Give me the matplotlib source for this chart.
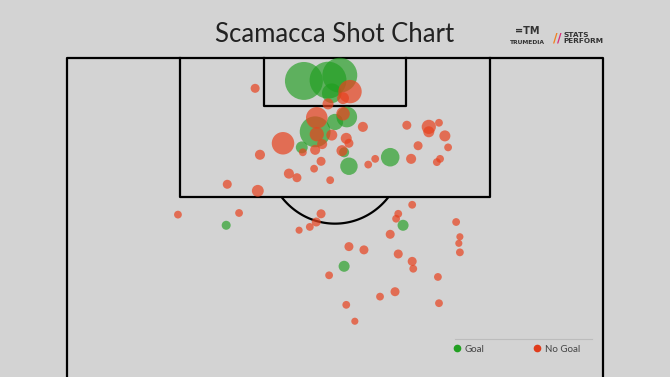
import numpy as np
import matplotlib
matplotlib.use("Agg")
from matplotlib import pyplot as plt
from matplotlib.lines import Line2D

# shot locations in Opta units (x = towards goal, y = across pitch) and xG
goal_x = [97.2, 97.3, 97.9, 95.7, 92.8, 92.2, 91.0, 89.1, 88.5, 86.8, 87.9, 79.6, 79.6, 74.6]
goal_y = [44.2, 48.7, 50.9, 49.4, 52.2, 50.0, 46.3, 43.8, 51.7, 52.6, 60.3, 29.7, 62.7, 51.7]
goal_xg = [0.71, 0.67, 0.60, 0.19, 0.21, 0.13, 0.47, 0.07, 0.05, 0.15, 0.17, 0.04, 0.06, 0.06]

miss_x = [95.9, 94.4, 95.1, 93.2, 92.7, 91.6, 90.7, 89.6, 89.5, 90.6, 90.2, 89.6, 88.7, 88.8,
          88.5, 87.4, 86.5, 85.9, 85.4, 85.1, 87.0, 87.7, 87.7, 89.3, 91.8, 91.6, 91.0, 92.1,
          90.5, 89.1, 87.7, 87.3, 96.3, 88.2, 84.6, 83.8, 82.1, 80.9, 81.1, 81.0, 80.0, 79.4,
          79.0, 81.0, 80.4, 78.5, 80.0, 78.2, 77.4, 76.3, 77.0, 76.6, 76.1, 75.2, 74.3, 73.5,
          73.3, 71.5, 70.9, 70.1, 69.9, 67.9]
miss_y = [52.8, 48.7, 51.5, 51.5, 46.6, 55.2, 46.6, 40.3, 47.6, 49.4, 52.1, 52.6, 51.3, 46.3,
          44.0, 47.4, 46.1, 41.4, 42.9, 49.1, 56.2, 57.5, 64.2, 65.5, 63.4, 67.5, 67.5, 69.4,
          70.5, 71.1, 69.6, 69.0, 35.1, 36.0, 29.9, 35.6, 64.4, 20.7, 32.1, 47.4, 46.5, 45.3,
          43.3, 61.8, 61.4, 60.3, 72.6, 73.3, 73.1, 73.3, 52.6, 55.4, 61.8, 64.4, 64.6, 48.9,
          69.2, 61.2, 58.4, 69.4, 52.1, 53.7]
miss_xg = [0.27, 0.06, 0.07, 0.09, 0.23, 0.05, 0.10, 0.25, 0.05, 0.06, 0.06, 0.04, 0.06, 0.05,
           0.03, 0.04, 0.03, 0.05, 0.04, 0.03, 0.03, 0.03, 0.05, 0.04, 0.04, 0.10, 0.06, 0.03,
           0.06, 0.03, 0.03, 0.03, 0.04, 0.05, 0.04, 0.07, 0.03, 0.03, 0.03, 0.04, 0.04, 0.03,
           0.025, 0.03, 0.03, 0.04, 0.03, 0.025, 0.025, 0.03, 0.04, 0.04, 0.04, 0.04, 0.03, 0.03,
           0.03, 0.04, 0.03, 0.03, 0.03, 0.025]

bg = "#d3d3d3"
green = "#1f9e1f"
red = "#e8421e"

fig = plt.figure(figsize=(6.7, 3.77), dpi=100, facecolor=bg)
ax = fig.add_axes([0, 0, 1, 1])
ax.set_facecolor(bg)
ax.set_xlim(-12.5, 112.5)
ax.set_ylim(61.1, 107.07)
ax.axis("off")

# pitch
lc = "black"
lw = 1.6
ax.plot([0, 0, 100, 100], [60, 100, 100, 60], color=lc, lw=lw, zorder=1)
ax.plot([21.1, 21.1, 78.9, 78.9], [100, 83, 83, 100], color=lc, lw=lw, zorder=1)
ax.plot([36.8, 36.8, 63.2, 63.2], [100, 94.2, 94.2, 100], color=lc, lw=lw, zorder=1)
t = np.linspace(0, 2 * np.pi, 400)
arc_y = 50 + 12.8 * np.cos(t)
arc_x = 88.5 + 8.7 * np.sin(t)
keep = arc_x <= 83
order = np.argsort(arc_y[keep])
ax.plot(arc_y[keep][order], arc_x[keep][order], color=lc, lw=lw, zorder=1)

# shots
ax.scatter(goal_y, goal_x, s=np.array(goal_xg) * 1050, color=green, alpha=0.65,
           edgecolors="none", zorder=2)
ax.scatter(miss_y, miss_x, s=np.array(miss_xg) * 1050, color=red, alpha=0.7,
           edgecolors="none", zorder=3)

# title and logos
fig.text(0.5, 1 - 35 / 377, "Scamacca Shot Chart", ha="center", va="center",
         fontsize=18.5, family="Lato", color="#222222")
fig.text(527 / 670, 1 - 31 / 377, "=TM", ha="center", va="center", fontsize=7,
         fontweight="bold", color="#333333", family="DejaVu Sans")
fig.text(527 / 670, 1 - 43 / 377, "TRUMEDIA", ha="center", va="center", fontsize=4.3,
         fontweight="bold", color="#333333", family="DejaVu Sans")
fig.text(555 / 670, 1 - 38 / 377, "/", ha="center", va="center", fontsize=9,
         fontweight="bold", color="#f08020", family="DejaVu Sans")
fig.text(559 / 670, 1 - 38 / 377, "/", ha="center", va="center", fontsize=9,
         fontweight="bold", color="#d8307a", family="DejaVu Sans")
fig.text(563 / 670, 1 - 38 / 377, "STATS\nPERFORM", ha="left", va="center", fontsize=5.3,
         fontweight="bold", color="#333333", family="DejaVu Sans", linespacing=0.85)

# legend
fig.add_artist(Line2D([455 / 670, 592 / 670], [1 - 339 / 377, 1 - 339 / 377],
                      color="#bcbcbc", lw=0.8))
handles = [Line2D([], [], marker="o", ls="", color="#22a022", markersize=4.5, label="Goal"),
           Line2D([], [], marker="o", ls="", color="#e03c1c", markersize=4.5, label="No Goal")]
leg = ax.legend(handles=handles, ncol=2, frameon=False, loc="center",
                bbox_to_anchor=(516 / 670, 1 - 349 / 377), bbox_transform=fig.transFigure,
                prop={"family": "Lato", "size": 7}, handletextpad=0.3, columnspacing=4.9,
                handlelength=1.0)
for txt in leg.get_texts():
    txt.set_color("#444444")

fig.savefig("out.png", dpi=100, facecolor=bg)
